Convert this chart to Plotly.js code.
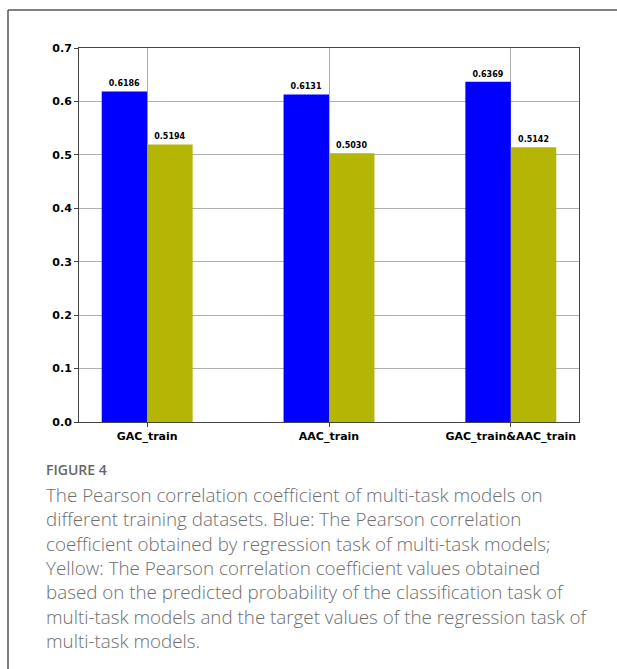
<!DOCTYPE html>
<html>
<head>
<meta charset="utf-8">
<script src="https://cdn.plot.ly/plotly-3.0.1.min.js"></script>
<style>
  html, body { margin: 0; padding: 0; background: #fff; }
  #chart { width: 617px; height: 669px; }
</style>
</head>
<body>
<div id="chart"></div>
<script>
// Training datasets on the x axis
const datasets = ["GAC_train", "AAC_train", "GAC_train&AAC_train"];
// Pearson correlation from the regression head
const regressionPcc = [0.6186, 0.6131, 0.6369];
// Pearson correlation from the classification probability vs regression target
const classificationPcc = [0.5194, 0.5030, 0.5142];
const yTicks = [0.0, 0.1, 0.2, 0.3, 0.4, 0.5, 0.6, 0.7];

const captionTitle = "FIGURE 4";
const captionLines = [
  "The Pearson correlation coefficient of multi-task models on",
  "different training datasets. Blue: The Pearson correlation",
  "coefficient obtained by regression task of multi-task models;",
  "Yellow: The Pearson correlation coefficient values obtained",
  "based on the predicted probability of the classification task of",
  "multi-task models and the target values of the regression task of",
  "multi-task models."
];

const W = 617, H = 669;
const M = { l: 79, r: 38, t: 48, b: 247 };
const plotH = H - M.t - M.b;
const plotW = W - M.l - M.r;
// pixel -> paper helpers for the frame and caption
const px = x => (x - M.l) / plotW;
const py = y => (H - M.b - y) / plotH;

const labelFont = { family: "DejaVu Sans", size: 8, color: "#000", weight: 700 };

const traces = [
  {
    type: "bar", x: datasets, y: regressionPcc, name: "Regression",
    marker: { color: "#0000ff", line: { width: 0 } },
    texttemplate: "%{y:.4f}", textposition: "outside", textfont: labelFont,
    cliponaxis: false, hoverinfo: "x+y"
  },
  {
    type: "bar", x: datasets, y: classificationPcc, name: "Classification",
    marker: { color: "#b5b505", line: { width: 0 } },
    texttemplate: "%{y:.4f}", textposition: "outside", textfont: labelFont,
    cliponaxis: false, hoverinfo: "x+y"
  }
];

const annotations = [
  {
    xref: "paper", yref: "paper", x: px(44), y: py(469),
    xanchor: "left", yanchor: "middle", showarrow: false,
    text: captionTitle,
    font: { family: "Open Sans", size: 14, color: "#666", weight: 600 }
  }
];
captionLines.forEach((line, i) => {
  annotations.push({
    xref: "paper", yref: "paper", x: px(44), y: py(495 + i * 24.3),
    xanchor: "left", yanchor: "middle", showarrow: false,
    text: line,
    font: { family: "Open Sans", size: 18.8, color: "#6e6e6e", weight: 300 }
  });
});

const frame = { color: "#555", width: 1.5 };
const shapes = [
  { type: "line", xref: "paper", yref: "paper", x0: px(8), x1: px(8), y0: py(10), y1: py(H + 2), line: frame },
  { type: "line", xref: "paper", yref: "paper", x0: px(8), x1: px(W + 2), y0: py(10), y1: py(10), line: frame }
];

const layout = {
  width: W, height: H,
  margin: M,
  paper_bgcolor: "#fff", plot_bgcolor: "#fff",
  showlegend: false,
  barmode: "group", bargap: 0.5, bargroupgap: 0,
  xaxis: {
    type: "category", range: [-0.375, 2.375],
    showgrid: true, gridcolor: "#b0b0b0", gridwidth: 1,
    showline: true, linecolor: "#444", linewidth: 1, mirror: true,
    ticks: "outside", ticklen: 4, tickcolor: "#444",
    tickfont: { family: "DejaVu Sans", size: 11, color: "#000", weight: 700 },
    zeroline: false
  },
  yaxis: {
    range: [0, 0.7], tickvals: yTicks, tickformat: ".1f",
    showgrid: true, gridcolor: "#b0b0b0", gridwidth: 1,
    showline: true, linecolor: "#444", linewidth: 1, mirror: true,
    ticks: "outside", ticklen: 4, tickcolor: "#444",
    tickfont: { family: "DejaVu Sans", size: 11, color: "#000", weight: 700 },
    zeroline: false
  },
  annotations: annotations,
  shapes: shapes
};

Plotly.newPlot("chart", traces, layout, { staticPlot: true, displayModeBar: false });
</script>
</body>
</html>
